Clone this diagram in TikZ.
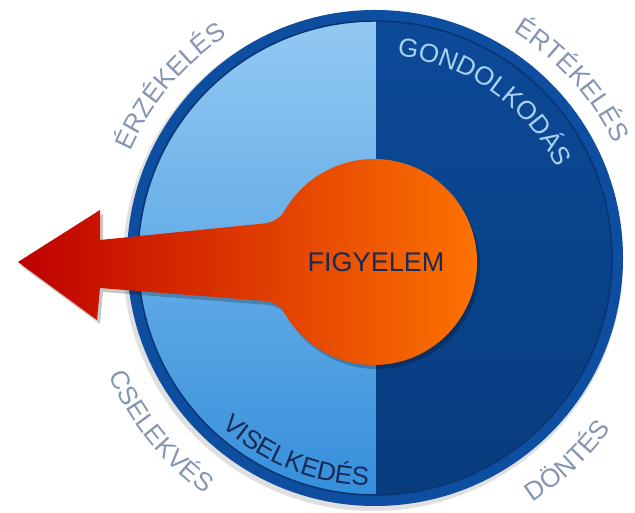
\documentclass[tikz,border=0pt]{standalone}
\usepackage{fontspec}
\setmainfont{Liberation Sans}
\newfontfamily\lsans{Liberation Sans}
\usetikzlibrary{decorations.text}
\definecolor{ringblue}{RGB}{14,78,160}
\definecolor{ringdark}{RGB}{8,52,112}
\definecolor{lbtop}{RGB}{148,202,243}
\definecolor{lbbot}{RGB}{52,142,218}
\definecolor{dbtop}{RGB}{12,74,152}
\definecolor{dbbot}{RGB}{8,60,126}
\definecolor{txtgray}{RGB}{134,150,178}
\definecolor{txtlight}{RGB}{168,210,242}
\definecolor{txtnavy}{RGB}{24,42,86}
\definecolor{arrred}{RGB}{190,0,0}
\definecolor{arrorange}{RGB}{255,118,0}
\newcommand\outerfmt{\lsans\fontsize{26bp}{26bp}\selectfont\color{txtgray}}
\newcommand\lightfmt{\lsans\fontsize{26bp}{26bp}\selectfont\color{txtlight}}
\newcommand\navyfmt{\lsans\fontsize{26bp}{26bp}\selectfont\color{txtnavy}}
\def\arrowpath{(18,251) -- (100,303) -- (100,273) -- (262,289.3)
  .. controls (272,290.3) and (279.8,293.8) .. (284.8,302.5)
  arc[start angle=150,end angle=-150,radius=103]
  .. controls (279.8,208.2) and (272,211.5) .. (262,212.3)
  -- (100,225) -- (97,193) -- cycle}
\tikzset{
  curvedtext/.style={decorate,decoration={text along path,text align=center,text={#1}}}
}
\begin{document}
\begin{tikzpicture}[x=1bp,y=1bp]
\useasboundingbox (0,0) rectangle (635,513);
\coordinate (C) at (375,255);
% soft shadow of the wheel
\fill[black,opacity=.12] (373,252) circle (250);
\fill[ringblue] (C) circle (248);
\begin{scope}
  \clip (C) circle (237);
  \shade[top color=lbtop,bottom color=lbbot] (130,10) rectangle (376,500);
  \shade[top color=dbtop,bottom color=dbbot] (376,10) rectangle (620,500);
\end{scope}
\draw[ringdark,line width=1.5] (C) circle (237);
% inner curved labels
\path[curvedtext={|\lightfmt|GONDOLKODÁS}] ([shift={(C)}]100:203) arc[start angle=100,end angle=10,radius=203];
\path[curvedtext={|\navyfmt|VISELKEDÉS}] ([shift={(C)}]208:228) arc[start angle=208,end angle=288,radius=228];
% outer curved labels
\path[curvedtext={|\outerfmt|ÉRZÉKELÉS}] ([shift={(C)}]175:267) arc[start angle=175,end angle=105,radius=267];
\path[curvedtext={|\outerfmt|ÉRTÉKELÉS}] ([shift={(C)}]77:265) arc[start angle=77,end angle=7,radius=265];
\path[curvedtext={|\outerfmt|CSELEKVÉS}] ([shift={(C)}]185:291) arc[start angle=185,end angle=253,radius=291];
\path[curvedtext={|\outerfmt|DÖNTÉS}] ([shift={(C)}]-80:291) arc[start angle=-80,end angle=-13,radius=291];
% arrow with focus circle
\fill[black,opacity=.22,shift={(3,-4)}] \arrowpath;
\shade[left color=arrred,right color=arrorange] \arrowpath;
\node[font=\lsans\fontsize{27bp}{27bp}\selectfont,text=txtnavy] (figy) at (376,251) {FIGYELEM};
\end{tikzpicture}
\end{document}
